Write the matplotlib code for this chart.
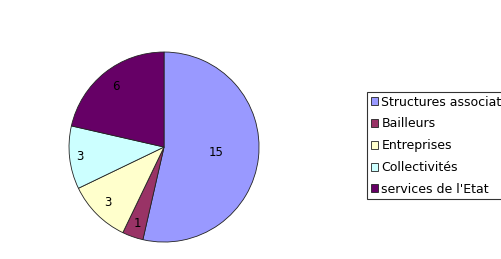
import numpy as np
import matplotlib
matplotlib.use('Agg')
import matplotlib.pyplot as plt

labels = ['Structures associatives', 'Bailleurs', 'Entreprises', 'Collectivités', "services de l'Etat"]
values = [15, 1, 3, 3, 6]
colors = ['#9999FF', '#993366', '#FFFFCC', '#CCFFFF', '#660066']
label_dist = [0.55, 0.85, 0.83, 0.89, 0.82]

fig = plt.figure(figsize=(5.02, 2.59), dpi=100)
ax = fig.add_axes([0.1355, 0.0618, 0.3825, 0.741])

wedges, _ = ax.pie(values, colors=colors, startangle=90, counterclock=False,
                   wedgeprops=dict(edgecolor='#222222', linewidth=0.6))
ax.set_xlim(-1.01, 1.01)
ax.set_ylim(-1.01, 1.01)

# value labels inside the wedges
for w, v, d in zip(wedges, values, label_dist):
    ang = np.deg2rad((w.theta1 + w.theta2) / 2)
    ax.text(d * np.cos(ang), d * np.sin(ang), str(v), ha='center', va='center',
            fontsize=8.5, color='black')

leg = fig.legend(wedges, labels, loc='upper left', bbox_to_anchor=(0.731, 0.645),
                 fontsize=9, frameon=True, fancybox=False, borderaxespad=0,
                 handlelength=0.6, handleheight=0.6, handletextpad=0.25,
                 labelspacing=0.7, borderpad=0.3)
leg.get_frame().set_edgecolor('black')
leg.get_frame().set_linewidth(0.8)

fig.savefig('out.png', dpi=100)
